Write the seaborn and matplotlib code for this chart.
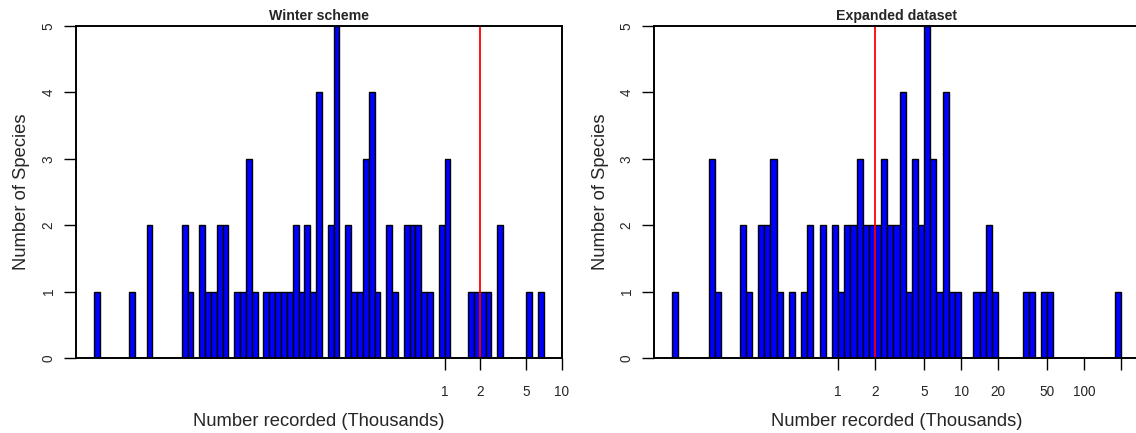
import numpy as np
import pandas as pd
import matplotlib
matplotlib.use("Agg")
import matplotlib.pyplot as plt
import seaborn as sns

# histogram counts per log10 bin (bin width 0.05 decade)
winter_start = -3.0
winter_counts = [1, 0, 0, 0, 0, 0, 1, 0, 0, 2,
                 0, 0, 0, 0, 0, 2, 1, 0, 2, 1,
                 1, 2, 2, 0, 1, 1, 3, 1, 0, 1,
                 1, 1, 1, 1, 2, 1, 2, 1, 4, 0,
                 2, 5, 0, 2, 1, 1, 3, 4, 1, 0,
                 2, 1, 0, 2, 2, 2, 1, 1, 0, 2,
                 3, 0, 0, 0, 1, 1, 1, 1, 0, 2,
                 0, 0, 0, 0, 1, 0, 1]

expanded_start = -1.35
expanded_counts = [1, 0, 0, 0, 0, 0, 3, 1, 0, 0,
                   0, 2, 1, 0, 2, 2, 3, 1, 0, 1,
                   0, 1, 2, 0, 2, 0, 2, 1, 2, 2,
                   3, 2, 2, 2, 3, 2, 2, 4, 1, 3,
                   2, 5, 3, 1, 4, 1, 1, 0, 0, 1,
                   1, 2, 1, 0, 0, 0, 0, 1, 1, 0,
                   1, 1, 0, 0, 0, 0, 0, 0, 0, 0,
                   0, 0, 1]

bin_width = 0.05
threshold = 2  # thousands, red line

winter_ticks = [1, 2, 5, 10]
winter_ticklabels = ["1", "2", "5", "10"]
expanded_ticks = [1, 2, 5, 10, 20, 50, 100, 200]
expanded_ticklabels = ["1", "2", "5", "10", "20", "50", "100", ""]

sns.set_theme(style="white")
plt.rcParams['font.family'] = ['Liberation Sans', 'DejaVu Sans']

W, H = 1136, 433
fig = plt.figure(figsize=(W / 100, H / 100), dpi=100)
ax1 = fig.add_axes([76 / W, (H - 358) / H, 486 / W, 332 / H])
ax2 = fig.add_axes([654 / W, (H - 358) / H, 485 / W, 332 / H])


def draw_panel(ax, start, counts, ticks, ticklabels, title):
    n = len(counts)
    edges = start + bin_width * np.arange(n + 1)
    df = pd.DataFrame({"logx": (edges[:-1] + edges[1:]) / 2, "n": counts})
    sns.histplot(data=df, x="logx", weights="n", bins=list(edges), ax=ax,
                 color="#0000ff", edgecolor="black", linewidth=1.0, alpha=1.0)
    lo, hi = edges[0], edges[-1]
    pad = 0.04 * (hi - lo)
    ax.set_xlim(lo - pad, hi + pad)
    ax.set_ylim(0, 5)
    ax.axvline(np.log10(threshold), color="red", lw=1.3)

    ax.set_xticks(np.log10(ticks))
    ax.set_xticklabels(ticklabels, fontsize=9.8)
    ax.set_yticks(range(6))
    ax.set_yticklabels([str(i) for i in range(6)], fontsize=9.8,
                       rotation=90, va="center")
    ax.tick_params(axis="both", direction="out", length=8.6, width=1.0,
                   color="black", bottom=True, left=True)
    ax.tick_params(axis="x", pad=11)
    ax.tick_params(axis="y", pad=6)
    for sp in ax.spines.values():
        sp.set_visible(True)
        sp.set_color("black")
        sp.set_linewidth(1.4)
    ax.grid(False)

    ax.set_title(title, fontsize=10.2, fontweight="bold", pad=4)
    ax.set_xlabel("Number recorded (Thousands)", fontsize=13.2)
    ax.set_ylabel("Number of Species", fontsize=13.2)
    ax.xaxis.set_label_coords(0.5, -0.165)
    ax.yaxis.set_label_coords(-54 / 486, 0.5)
    ax.yaxis.label.set_verticalalignment("center")


draw_panel(ax1, winter_start, winter_counts, winter_ticks,
           winter_ticklabels, "Winter scheme")
draw_panel(ax2, expanded_start, expanded_counts, expanded_ticks,
           expanded_ticklabels, "Expanded dataset")

fig.savefig("out.png", dpi=100)
